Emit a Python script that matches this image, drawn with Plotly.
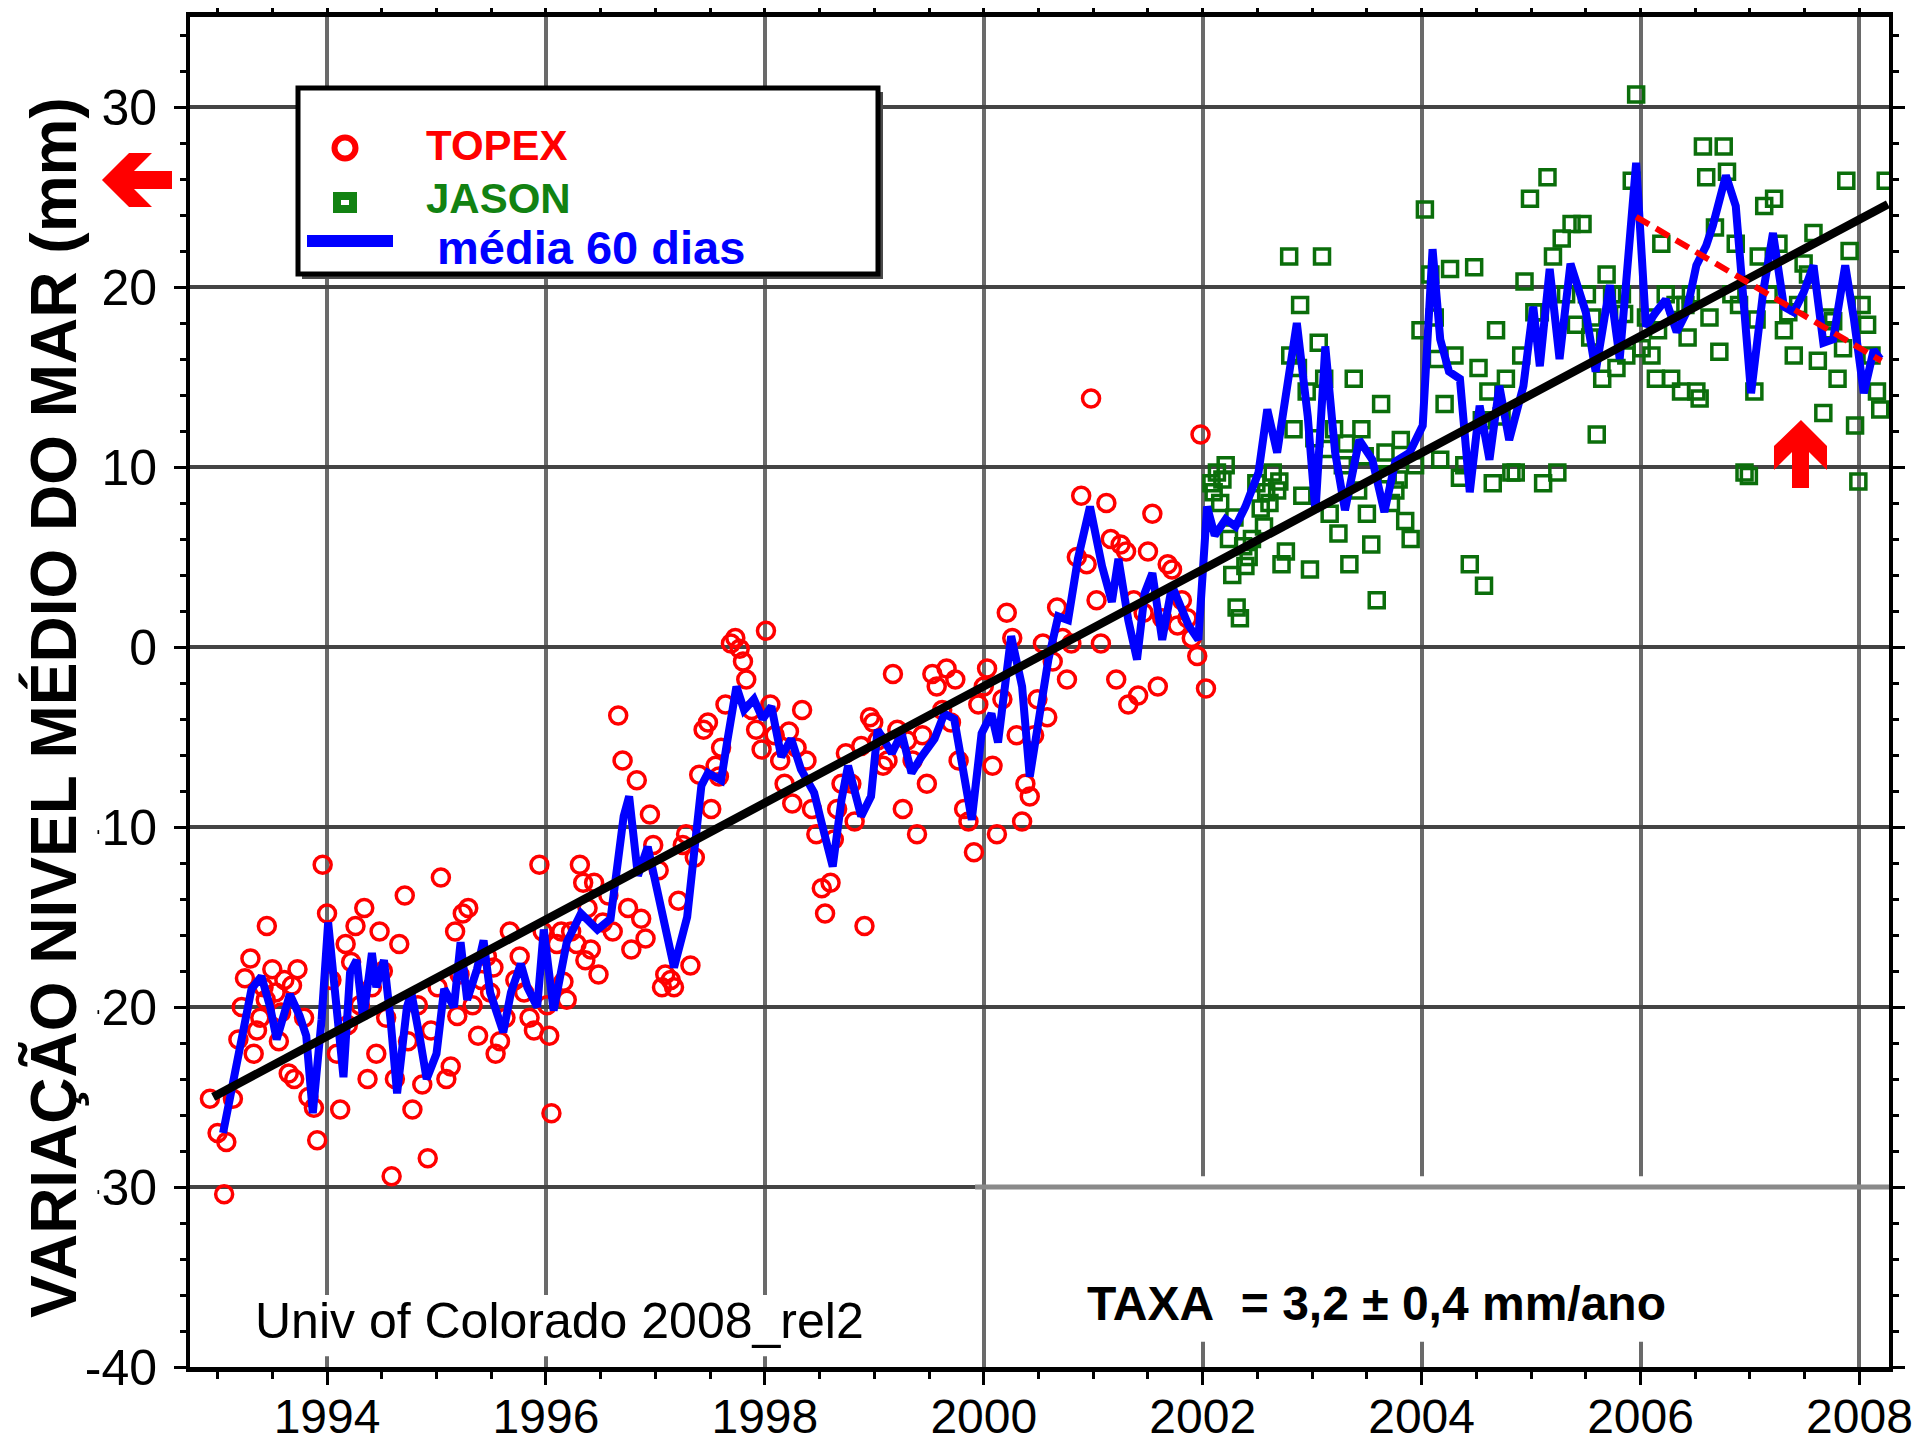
import plotly.graph_objects as go

# ---------------- data ----------------
topex_year = [
    1992.93, 1993.00, 1993.06, 1993.08, 1993.14, 1993.19, 1993.22, 1993.25, 1993.30, 1993.33,
    1993.36, 1993.39, 1993.42, 1993.45, 1993.50, 1993.53, 1993.56, 1993.61, 1993.65, 1993.70,
    1993.73, 1993.79, 1993.83, 1993.88, 1993.91, 1993.96, 1994.00, 1994.04, 1994.09, 1994.12,
    1994.17, 1994.22, 1994.26, 1994.30, 1994.34, 1994.37, 1994.41, 1994.45, 1994.48, 1994.54,
    1994.59, 1994.62, 1994.66, 1994.71, 1994.74, 1994.78, 1994.83, 1994.87, 1994.92, 1994.95,
    1995.01, 1995.04, 1995.09, 1995.13, 1995.17, 1995.21, 1995.24, 1995.29, 1995.33, 1995.38,
    1995.41, 1995.46, 1995.49, 1995.54, 1995.58, 1995.63, 1995.67, 1995.72, 1995.76, 1995.80,
    1995.85, 1995.89, 1995.94, 1995.97, 1996.01, 1996.03, 1996.05, 1996.10, 1996.14, 1996.19,
    1996.23, 1996.28, 1996.31, 1996.34, 1996.38, 1996.41, 1996.44, 1996.48, 1996.52, 1996.57,
    1996.61, 1996.66, 1996.70, 1996.75, 1996.78, 1996.83, 1996.87, 1996.91, 1996.95, 1996.98,
    1997.03, 1997.06, 1997.09, 1997.14, 1997.17, 1997.21, 1997.25, 1997.28, 1997.32, 1997.36,
    1997.40, 1997.44, 1997.48, 1997.51, 1997.55, 1997.60, 1997.64, 1997.69, 1997.73, 1997.77,
    1997.80, 1997.83, 1997.88, 1997.92, 1997.97, 1998.01, 1998.05, 1998.09, 1998.14, 1998.18,
    1998.22, 1998.25, 1998.29, 1998.34, 1998.38, 1998.43, 1998.47, 1998.52, 1998.55, 1998.60,
    1998.63, 1998.66, 1998.70, 1998.74, 1998.79, 1998.82, 1998.88, 1998.91, 1998.96, 1998.99,
    1999.03, 1999.08, 1999.12, 1999.17, 1999.21, 1999.26, 1999.30, 1999.35, 1999.39, 1999.44,
    1999.48, 1999.53, 1999.57, 1999.62, 1999.66, 1999.70, 1999.74, 1999.77, 1999.82, 1999.86,
    1999.91, 1999.95, 2000.00, 2000.03, 2000.08, 2000.12, 2000.17, 2000.21, 2000.26, 2000.30,
    2000.35, 2000.38, 2000.42, 2000.46, 2000.49, 2000.54, 2000.58, 2000.63, 2000.67, 2000.72,
    2000.76, 2000.80, 2000.85, 2000.89, 2000.94, 2000.98, 2001.03, 2001.07, 2001.12, 2001.16,
    2001.21, 2001.25, 2001.30, 2001.32, 2001.37, 2001.41, 2001.46, 2001.50, 2001.54, 2001.59,
    2001.63, 2001.68, 2001.72, 2001.77, 2001.81, 2001.86, 2001.90, 2001.95, 2001.98, 2002.03,
    1993.44, 1993.58, 1993.68, 1994.19, 1994.51, 1995.19, 1995.52, 1996.16, 1996.36, 1997.58,
]
topex_mm = [
    -25.1, -27.0, -30.4, -27.5, -25.1, -21.8, -20.0, -18.4, -17.3, -22.6,
    -21.3, -20.6, -18.9, -15.5, -17.9, -19.2, -21.9, -18.5, -23.7, -24.0,
    -17.9, -20.6, -25.0, -25.6, -27.4, -12.1, -14.8, -18.5, -22.6, -25.7,
    -16.5, -17.5, -15.5, -19.9, -14.5, -24.0, -18.9, -22.6, -15.8, -20.6,
    -29.4, -24.0, -16.5, -13.8, -21.9, -25.7, -19.9, -24.3, -28.4, -21.3,
    -18.9, -12.8, -24.0, -23.3, -15.8, -18.2, -14.8, -14.5, -19.9, -21.6,
    -18.5, -17.2, -19.2, -22.6, -21.9, -20.6, -15.8, -18.5, -17.2, -19.2,
    -20.6, -21.3, -12.1, -15.8, -19.9, -21.6, -25.9, -16.5, -15.8, -19.6,
    -15.8, -16.5, -12.1, -13.1, -14.5, -16.8, -13.1, -18.2, -15.3, -13.8,
    -15.8, -3.8, -6.3, -14.5, -16.8, -7.4, -15.1, -16.2, -9.3, -11.0,
    -12.4, -18.9, -18.2, -18.5, -18.9, -14.1, -11.0, -10.4, -17.7, -11.7,
    -7.1, -4.6, -4.2, -9.0, -6.6, -5.6, -3.2, 0.2, 0.5, -0.1,
    -0.8, -1.8, -3.5, -4.6, -5.7, 0.9, -3.2, -4.9, -6.3, -7.6,
    -4.7, -8.7, -5.6, -3.5, -6.3, -9.0, -10.4, -13.4, -14.8, -13.1,
    -10.7, -9.0, -7.6, -5.9, -7.6, -9.7, -5.5, -15.5, -3.9, -4.2,
    -5.2, -6.6, -6.3, -1.5, -4.6, -9.0, -5.2, -6.3, -10.4, -4.9,
    -7.6, -1.5, -2.2, -3.5, -1.2, -4.2, -1.8, -6.3, -9.0, -9.7,
    -11.4, -3.2, -2.2, -1.2, -6.6, -10.4, -2.9, 1.9, 0.5, -4.9,
    -9.7, -7.6, -8.3, -4.9, -2.9, 0.2, -3.9, -0.8, 2.2, 0.5,
    -1.8, 0.2, 5.0, 8.4, 4.6, 13.8, 2.6, 0.2, 8.0, 6.0,
    -1.8, 5.7, 5.3, -3.2, 2.6, -2.7, 1.9, 5.3, 7.4, -2.2,
    1.6, 4.6, 4.3, 1.2, 2.6, 1.6, 0.5, -0.5, 11.8, -2.3,
    -19.6, -20.3, -18.8, -21.0, -18.0, -20.5, -17.8, -18.6, -17.4, -7.2,
]

jason_year = [
    2002.08, 2002.13, 2002.16, 2002.21, 2002.24, 2002.27, 2002.31, 2002.34, 2002.39, 2002.42,
    2002.45, 2002.49, 2002.53, 2002.56, 2002.61, 2002.64, 2002.68, 2002.72, 2002.76, 2002.79,
    2002.80, 2002.83, 2002.87, 2002.89, 2002.91, 2002.95, 2002.98, 2003.06, 2003.09, 2003.11,
    2003.16, 2003.20, 2003.24, 2003.28, 2003.34, 2003.38, 2003.42, 2003.45, 2003.50, 2003.54,
    2003.59, 2003.63, 2003.67, 2003.72, 2003.76, 2003.81, 2003.85, 2003.90, 2003.94, 2003.99,
    2004.03, 2004.08, 2004.12, 2004.17, 2004.21, 2004.26, 2004.30, 2004.35, 2004.39, 2004.44,
    2004.48, 2004.52, 2004.57, 2004.61, 2004.65, 2004.68, 2004.73, 2004.77, 2004.82, 2004.86,
    2004.91, 2004.94, 2004.99, 2005.03, 2005.08, 2005.11, 2005.15, 2005.20, 2005.24, 2005.28,
    2005.32, 2005.37, 2005.41, 2005.47, 2005.51, 2005.56, 2005.60, 2005.65, 2005.69, 2005.74,
    2005.78, 2005.83, 2005.87, 2005.92, 2005.96, 2006.01, 2006.05, 2006.10, 2006.14, 2006.19,
    2006.23, 2006.28, 2006.32, 2006.37, 2006.41, 2006.46, 2006.51, 2006.54, 2006.57, 2006.60,
    2006.63, 2006.68, 2006.72, 2006.76, 2006.79, 2006.83, 2006.87, 2006.90, 2006.95, 2006.99,
    2007.04, 2007.08, 2007.13, 2007.17, 2007.22, 2007.26, 2007.31, 2007.35, 2007.40, 2007.44,
    2007.49, 2007.53, 2007.58, 2007.62, 2007.67, 2007.71, 2007.76, 2007.80, 2007.85, 2007.88,
    2007.91, 2007.96, 2007.99, 2008.02, 2008.07, 2008.11, 2008.16, 2008.19, 2008.24,
    2002.10, 2002.18, 2002.29, 2002.37, 2002.58, 2002.70, 2003.02, 2003.14, 2003.31, 2003.48,
    2003.69, 2003.79, 2004.14, 2004.55, 2005.54, 2005.85, 2006.16, 2006.43, 2007.06, 2007.73,
]
jason_mm = [
    9.1, 9.7, 8.0, 10.1, 6.0, 4.0, 2.2, 1.6, 4.5, 5.0,
    6.0, 9.1, 7.7, 6.7, 8.0, 9.7, 8.7, 4.6, 5.3, 21.7,
    16.2, 12.1, 15.5, 19.0, 8.4, 14.2, 4.3, 16.9, 21.7, 14.9,
    7.4, 12.1, 6.3, 10.1, 4.6, 14.9, 8.7, 12.1, 7.4, 5.7,
    2.6, 13.5, 10.8, 8.0, 8.7, 11.5, 7.0, 6.0, 10.1, 17.6,
    24.3, 20.7, 18.3, 10.4, 13.5, 21.0, 16.2, 9.4, 10.1, 4.6,
    21.1, 15.5, 3.4, 14.2, 9.1, 17.6, 12.8, 14.9, 9.7, 9.7,
    16.2, 20.3, 24.9, 18.6, 18.6, 9.1, 26.1, 21.7, 9.7, 22.7,
    19.6, 23.5, 17.9, 23.5, 19.6, 18.3, 11.8, 14.9, 20.7, 19.6,
    15.5, 19.6, 16.2, 25.9, 30.7, 16.6, 18.3, 16.2, 14.9, 22.4,
    19.6, 14.9, 19.0, 14.2, 19.0, 19.6, 14.2, 13.8, 27.8, 26.1,
    18.3, 23.3, 16.4, 27.8, 26.4, 19.6, 22.4, 19.0, 9.7, 9.5,
    14.2, 21.7, 24.5, 19.6, 24.9, 22.4, 17.6, 18.6, 16.2, 19.0,
    21.3, 20.7, 23.0, 15.9, 13.0, 18.3, 18.1, 14.9, 16.6, 25.9,
    22.0, 12.3, 9.2, 19.0, 17.9, 16.2, 14.2, 13.2, 25.9,
    8.6, 9.3, 7.2, 5.6, 8.6, 9.2, 11.6, 11.0, 11.3, 10.6,
    9.6, 9.3, 16.0, 12.6, 17.2, 18.5, 17.6, 17.2, 18.2, 17.6,
]

media_year = [
    1993.05, 1993.31, 1993.40, 1993.48, 1993.54, 1993.60, 1993.66, 1993.75, 1993.81, 1993.87,
    1993.95, 1994.01, 1994.09, 1994.15, 1994.21, 1994.27, 1994.33, 1994.41, 1994.45, 1994.52,
    1994.58, 1994.64, 1994.73, 1994.77, 1994.85, 1994.91, 1995.00, 1995.07, 1995.16, 1995.22,
    1995.28, 1995.37, 1995.43, 1995.49, 1995.61, 1995.68, 1995.77, 1995.83, 1995.92, 1995.98,
    1996.07, 1996.19, 1996.32, 1996.47, 1996.59, 1996.71, 1996.76, 1996.84, 1996.93, 1997.02,
    1997.17, 1997.29, 1997.42, 1997.48, 1997.60, 1997.66, 1997.74, 1997.81, 1997.90, 1997.98,
    1998.06, 1998.15, 1998.24, 1998.33, 1998.45, 1998.54, 1998.62, 1998.70, 1998.76, 1998.88,
    1998.97, 1999.03, 1999.16, 1999.25, 1999.34, 1999.43, 1999.55, 1999.64, 1999.73, 1999.89,
    1999.98, 2000.07, 2000.13, 2000.25, 2000.35, 2000.42, 2000.50, 2000.59, 2000.68, 2000.77,
    2000.86, 2000.97, 2001.08, 2001.17, 2001.23, 2001.32, 2001.40, 2001.47, 2001.54, 2001.63,
    2001.72, 2001.78, 2001.87, 2001.96, 2002.04, 2002.11, 2002.21, 2002.30, 2002.39, 2002.51,
    2002.59, 2002.68, 2002.76, 2002.86, 2002.96, 2003.03, 2003.12, 2003.21, 2003.30, 2003.43,
    2003.55, 2003.66, 2003.76, 2003.89, 2004.01, 2004.10, 2004.17, 2004.25, 2004.35, 2004.44,
    2004.53, 2004.62, 2004.71, 2004.80, 2004.93, 2005.02, 2005.08, 2005.17, 2005.26, 2005.36,
    2005.50, 2005.59, 2005.72, 2005.81, 2005.96, 2006.05, 2006.14, 2006.23, 2006.33, 2006.42,
    2006.51, 2006.60, 2006.66, 2006.78, 2006.87, 2006.94, 2007.01, 2007.12, 2007.21, 2007.31,
    2007.40, 2007.49, 2007.58, 2007.67, 2007.76, 2007.87, 2007.95, 2008.04, 2008.13, 2008.19,
]
media_mm = [
    -27.0, -19.0, -18.3, -20.0, -21.8, -20.7, -19.3, -20.5, -21.6, -25.9,
    -20.7, -15.3, -20.7, -23.9, -18.1, -17.4, -20.7, -17.0, -18.9, -17.4,
    -20.7, -24.8, -20.0, -19.2, -21.8, -24.0, -22.6, -19.0, -20.0, -16.4,
    -19.6, -17.9, -16.3, -19.2, -21.4, -19.2, -17.6, -18.9, -20.0, -15.7,
    -20.2, -16.4, -14.8, -15.7, -15.1, -9.4, -8.3, -12.7, -11.1, -13.6,
    -17.8, -15.0, -7.7, -7.0, -7.4, -5.1, -2.2, -3.5, -2.9, -4.0,
    -3.3, -6.1, -5.1, -6.8, -8.1, -10.3, -12.2, -8.5, -6.6, -9.4,
    -8.3, -4.6, -5.9, -4.8, -7.0, -6.1, -5.1, -3.7, -4.0, -9.6,
    -4.8, -3.7, -5.3, 0.6, -2.2, -7.2, -4.0, -0.7, 1.7, 1.5,
    4.9, 7.8, 4.5, 2.5, 4.9, 1.5, -0.7, 3.0, 4.1, 0.4,
    3.4, 2.6, 1.2, 0.4, 7.8, 6.2, 7.1, 6.7, 7.8, 9.7,
    13.2, 10.8, 13.8, 18.0, 12.8, 7.5, 16.7, 10.8, 7.6, 11.5,
    10.4, 7.5, 10.3, 10.8, 12.3, 22.1, 17.1, 15.3, 14.9, 8.6,
    13.4, 10.4, 14.5, 11.5, 14.5, 18.9, 15.6, 21.0, 16.0, 21.3,
    18.6, 15.3, 20.1, 16.0, 26.9, 17.8, 18.6, 19.3, 17.5, 18.6,
    21.2, 22.3, 23.4, 26.2, 24.5, 18.6, 14.1, 19.7, 23.0, 18.9,
    18.6, 19.7, 21.2, 16.9, 17.1, 21.2, 18.2, 14.1, 16.5, 16.0,
]

trend_year = [1992.96, 2008.26]
trend_mm = [-25.0, 24.6]

recent_year = [2005.96, 2008.20]
recent_mm = [23.9, 15.9]

x_tick_vals = [1994, 1996, 1998, 2000, 2002, 2004, 2006, 2008]
x_tick_text = ["1994", "1996", "1998", "2000", "2002", "2004", "2006", "2008"]
y_tick_vals = [-40, -30, -20, -10, 0, 10, 20, 30]
y_tick_text = ["-40", "-30", "-20", "-10", "0", "10", "20", "30"]

series_names = ["TOPEX", "JASON", "média 60 dias"]
y_title = "VARIAÇÃO NIVEL MÉDIO DO MAR (mm)"
source_text = "Univ of Colorado 2008_rel2"
rate_text = "TAXA\u00a0 = 3,2 ± 0,4 mm/ano"

# ---------------- styling ----------------
# the page body has an 8 px margin: the figure is drawn 8 px right/down
OFF = 8
W, H = 1923 - OFF, 1447 - OFF
# plot area on screen: x 190..1889, y 17..1367
ML, MT = 190 - OFF, 17 - OFF
MR = W - (1889 - OFF)
MB = H - (1367 - OFF)
PW, PH = 1889 - 190, 1367 - 17
FONT = "Liberation Sans, Arial, Helvetica, sans-serif"
RED = "#ff0000"
GREEN = "#0b6e0b"
GREEN_TXT = "#128212"
BLUE = "#0000ff"


def px(x):
    # screen pixel -> paper fraction
    return (x - 190) / PW


def py(y):
    return (1367 - y) / PH


def poly(points):
    return "M " + " L ".join(f"{px(a):.5f},{py(b):.5f}" for a, b in points) + " Z"


fig = go.Figure()

fig.add_trace(go.Scatter(
    x=topex_year, y=topex_mm, mode="markers", name=series_names[0],
    marker=dict(symbol="circle-open", size=17, color=RED, line=dict(width=3.5, color=RED)),
    showlegend=False))
fig.add_trace(go.Scatter(
    x=jason_year, y=jason_mm, mode="markers", name=series_names[1],
    marker=dict(symbol="square-open", size=15, color=GREEN, line=dict(width=3.5, color=GREEN)),
    showlegend=False))
fig.add_trace(go.Scatter(
    x=media_year, y=media_mm, mode="lines", name=series_names[2],
    line=dict(color=BLUE, width=8), showlegend=False))
fig.add_trace(go.Scatter(
    x=trend_year, y=trend_mm, mode="lines", line=dict(color="black", width=8.5),
    showlegend=False))
fig.add_trace(go.Scatter(
    x=recent_year, y=recent_mm, mode="lines", line=dict(color=RED, width=6, dash="15px,8px"),
    showlegend=False))

shapes = []
# white patches behind the texts at the bottom
shapes.append(dict(type="rect", xref="x", yref="y", x0=1993.3, x1=1999.05, y0=-39.4, y1=-36.0,
                   fillcolor="white", line=dict(width=0), layer="between"))
shapes.append(dict(type="rect", xref="x", yref="y", x0=2000.1, x1=2007.92, y0=-38.6, y1=-29.4,
                   fillcolor="white", line=dict(width=0), layer="between"))
shapes.append(dict(type="line", xref="x", yref="y", x0=1999.92, x1=2008.27, y0=-30, y1=-30,
                   line=dict(color="#8a8a8a", width=5), layer="between"))
# legend box
shapes.append(dict(type="rect", xref="paper", yref="paper", x0=px(302), x1=px(883), y0=py(279), y1=py(92),
                   fillcolor="#4a4a4a", line=dict(width=0), layer="above"))
shapes.append(dict(type="rect", xref="paper", yref="paper", x0=px(298), x1=px(878), y0=py(274), y1=py(88),
                   fillcolor="white", line=dict(color="black", width=5), layer="above"))
shapes.append(dict(type="circle", xref="paper", yref="paper", x0=px(334.5), x1=px(355.5), y0=py(158.5), y1=py(137.5),
                   line=dict(color=RED, width=6), layer="above"))
shapes.append(dict(type="rect", xref="paper", yref="paper", x0=px(337), x1=px(353), y0=py(209), y1=py(196),
                   line=dict(color=GREEN_TXT, width=8), layer="above"))
shapes.append(dict(type="line", xref="paper", yref="paper", x0=px(307), x1=px(393), y0=py(241), y1=py(241),
                   line=dict(color=BLUE, width=12), layer="above"))
# red arrows
shapes.append(dict(type="path", xref="paper", yref="paper",
                   path=poly([(102, 180), (129, 153), (152, 153), (134, 171), (172, 171),
                              (172, 189), (134, 189), (152, 207), (129, 207)]),
                   fillcolor=RED, line=dict(width=0), layer="above"))
shapes.append(dict(type="path", xref="paper", yref="paper",
                   path=poly([(1801, 420), (1827, 446), (1827, 470), (1809, 452), (1809, 488),
                              (1792, 488), (1792, 452), (1774, 470), (1774, 446)]),
                   fillcolor=RED, line=dict(width=0), layer="above"))

annotations = [
    dict(text=f"<b>{series_names[0]}</b>", x=px(424), y=py(146), xref="paper", yref="paper",
         xanchor="left", yanchor="middle", showarrow=False, font=dict(family=FONT, size=42, color=RED)),
    dict(text=f"<b>{series_names[1]}</b>", x=px(424), y=py(198), xref="paper", yref="paper",
         xanchor="left", yanchor="middle", showarrow=False, font=dict(family=FONT, size=42, color=GREEN_TXT)),
    dict(text=f"<b>{series_names[2]}</b>", x=px(435), y=py(247), xref="paper", yref="paper",
         xanchor="left", yanchor="middle", showarrow=False, font=dict(family=FONT, size=47, color=BLUE)),
    dict(text=f"<b>{y_title}</b>", x=px(54), y=py(708), xref="paper", yref="paper",
         xanchor="center", yanchor="middle", textangle=-90, showarrow=False,
         bgcolor="white", borderpad=7,
         font=dict(family=FONT, size=64, color="black")),
    dict(text=source_text, x=px(253), y=py(1321), xref="paper", yref="paper",
         xanchor="left", yanchor="middle", showarrow=False, font=dict(family=FONT, size=50, color="black")),
    dict(text=f"<b>{rate_text}</b>", x=px(1085), y=py(1303), xref="paper", yref="paper",
         xanchor="left", yanchor="middle", showarrow=False, font=dict(family=FONT, size=48, color="black")),
]

fig.update_layout(
    width=W, height=H,
    margin=dict(l=ML, r=MR, t=MT, b=MB, pad=0, autoexpand=False),
    paper_bgcolor="white", plot_bgcolor="white",
    showlegend=False,
    shapes=shapes, annotations=annotations,
    xaxis=dict(
        range=[1992.748, 2008.27], tickmode="array", tickvals=x_tick_vals, ticktext=x_tick_text,
        ticks="outside", ticklen=13, tickwidth=3, tickcolor="black",
        minor=dict(tickmode="linear", tick0=1994, dtick=0.5, ticks="outside", ticklen=7,
                   tickwidth=3, tickcolor="black", showgrid=False),
        showline=True, linecolor="black", linewidth=5, mirror="allticks",
        showgrid=True, gridcolor="#6a6a6a", gridwidth=4, zeroline=False, automargin=False,
        tickfont=dict(family=FONT, size=48, color="black"), ticklabelstandoff=-10,
        ticklabeloverflow="allow",
    ),
    yaxis=dict(
        range=[-40, 35.0], tickmode="array", tickvals=y_tick_vals, ticktext=y_tick_text,
        ticks="outside", ticklen=12, tickwidth=3, tickcolor="black",
        minor=dict(tickmode="linear", tick0=0, dtick=2, ticks="outside", ticklen=6,
                   tickwidth=3, tickcolor="black", showgrid=False),
        showline=True, linecolor="black", linewidth=4, mirror="allticks",
        showgrid=True, gridcolor="#444444", gridwidth=4, zeroline=False, automargin=False,
        tickfont=dict(family=FONT, size=50, color="black"), ticklabelstandoff=7,
    ),
)

fig.write_html("out.html")
